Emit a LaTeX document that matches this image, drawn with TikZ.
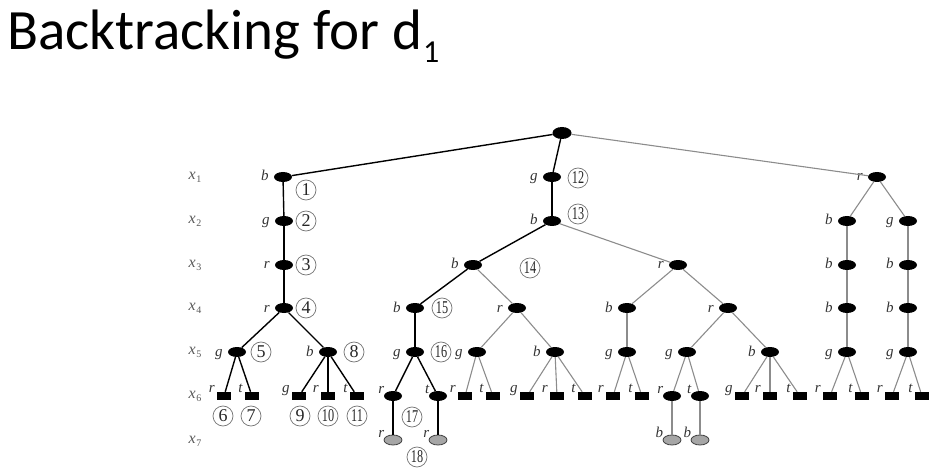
\documentclass[tikz,border=0pt]{standalone}
\usepackage{fontspec}
\setmainfont{Liberation Serif}
\newfontfamily\titlefont{Carlito}
\usetikzlibrary{shapes.geometric}
\newcommand\xv[1]{\textit{x}\kern0.5pt\raisebox{-3pt}{\fontsize{10}{10}\selectfont #1}}
\newcommand\tn[1]{\scalebox{0.68}[1]{#1}}
\begin{document}
\begin{tikzpicture}[x=1pt,y=-1pt,
  nd/.style={ellipse,fill=black,minimum width=18pt,minimum height=10pt,inner sep=0pt},
  lf/.style={rectangle,fill=black,minimum width=14pt,minimum height=8pt,inner sep=0pt},
  gn/.style={ellipse,fill=black!35,draw=black!75,line width=0.8pt,minimum width=18pt,minimum height=10pt,inner sep=0pt},
  lab/.style={font=\fontsize{15}{15}\selectfont\itshape,text=black!80,inner sep=0pt},
  il/.style={label={[lab,anchor=base east,yshift=-4pt,label distance=5pt]left:#1}},
  ll/.style={label={[lab,anchor=base east,xshift=-2pt,yshift=-1pt]north west:#1}},
  cn/.style={circle,draw=black!55,line width=0.7pt,minimum size=20pt,inner sep=0pt,text=black!85,font=\fontsize{18}{18}\selectfont},
  xl/.style={font=\fontsize{16}{16}\selectfont,text=black!65,inner sep=0pt},
  dk/.style={draw=black,line width=1.4pt},
  lt/.style={draw=black!45,line width=1.1pt}]
\useasboundingbox (0,0) rectangle (946,476);
\node[anchor=base west,inner sep=0pt,font=\titlefont\fontsize{57}{57}\selectfont] (title) at (7,50)
  {Backtracking for d\hspace{1pt}\raisebox{-13pt}{\fontsize{32}{32}\selectfont 1}};
% level labels
\node[xl] (x1) at (195,177) {\xv{1}};
\node[xl] (x2) at (195,221) {\xv{2}};
\node[xl] (x3) at (195,265) {\xv{3}};
\node[xl] (x4) at (195,308) {\xv{4}};
\node[xl] (x5) at (195,352) {\xv{5}};
\node[xl] (x6) at (195,396) {\xv{6}};
\node[xl] (x7) at (195,441) {\xv{7}};
% root
\node[nd,minimum width=19pt,minimum height=12pt] (root) at (562,133) {};
% left subtree
\node[nd,il=b] (n1) at (283,177) {};
\node[nd,il=g] (n2) at (284,221) {};
\node[nd,il=r] (n3) at (284,265) {};
\node[nd,il=r] (n4) at (284,308) {};
\node[nd,il=g] (n5) at (237,352) {};
\node[nd,il=b] (n8) at (328,352) {};
\node[lf,ll=r] (l6) at (224,396) {};
\node[lf,ll=t] (l7) at (252,396) {};
\node[lf,ll=g] (l9) at (299,396) {};
\node[lf,ll=r] (l10) at (328,396) {};
\node[lf,ll=t] (l11) at (357,396) {};
% middle subtree
\node[nd,il=g] (n12) at (552,177) {};
\node[nd,il=b] (n13) at (552,221) {};
\node[nd,il=b] (n14) at (473,265) {};
\node[nd,il=b] (n15) at (415,308) {};
\node[nd,il=g] (n16) at (415,352) {};
\node[nd,ll=r] (e17a) at (393,396) {};
\node[nd,ll=t] (e17b) at (438,396) {};
\node[gn,ll=r] (g18a) at (393,440) {};
\node[gn,ll=r] (g18b) at (438,440) {};
\node[nd,il=r] (mr4) at (517,308) {};
\node[nd,il=g] (mg5) at (477,352) {};
\node[lf,ll=r] (ma1) at (465,396) {};
\node[lf,ll=t] (ma2) at (493,396) {};
\node[nd,il=b] (mb5) at (555,352) {};
\node[lf,ll=g] (mb1) at (527,396) {};
\node[lf,ll=r] (mb2) at (557,396) {};
\node[lf,ll=t] (mb3) at (585,396) {};
\node[nd,il=r] (mr3) at (678,265) {};
\node[nd,il=b] (pb4) at (627,308) {};
\node[nd,il=g] (pg5) at (627,352) {};
\node[lf,ll=r] (pa1) at (613,396) {};
\node[lf,ll=t] (pa2) at (642,396) {};
\node[nd,il=r] (pr4) at (728,308) {};
\node[nd,il=g] (pg5b) at (687,352) {};
\node[nd,ll=r] (pe1) at (672,396) {};
\node[nd,ll=t] (pe2) at (700,396) {};
\node[gn,ll=b] (pq1) at (672,440) {};
\node[gn,ll=b] (pq2) at (700,440) {};
\node[nd,il=b] (pb5) at (770,352) {};
\node[lf,ll=g] (pc1) at (742,396) {};
\node[lf,ll=r] (pc2) at (770,396) {};
\node[lf,ll=t] (pc3) at (800,396) {};
% right subtree
\node[nd,il=r] (rr) at (877,177) {};
\node[nd,il=b] (rb2) at (847,221) {};
\node[nd,il=g] (rg2) at (908,221) {};
\node[nd,il=b] (rb3) at (847,265) {};
\node[nd,il=b] (rb3b) at (908,265) {};
\node[nd,il=b] (rb4) at (847,308) {};
\node[nd,il=b] (rb4b) at (908,308) {};
\node[nd,il=g] (rg5) at (847,352) {};
\node[nd,il=g] (rg5b) at (908,352) {};
\node[lf,ll=r] (ra1) at (830,396) {};
\node[lf,ll=t] (ra2) at (862,396) {};
\node[lf,ll=r] (ra3) at (892,396) {};
\node[lf,ll=t] (ra4) at (922,396) {};
% dark edges (explored)
\draw[dk] (root) -- (n1);
\draw[dk] (root) -- (n12);
\draw[dk] (n1) -- (n2);
\draw[dk] (n2) -- (n3);
\draw[dk] (n3) -- (n4);
\draw[dk] (n4) -- (n5);
\draw[dk] (n4) -- (n8);
\draw[dk] (n5) -- (l6);
\draw[dk] (n5) -- (l7);
\draw[dk] (n8) -- (l9);
\draw[dk] (n8) -- (l10);
\draw[dk] (n8) -- (l11);
\draw[dk] (n12) -- (n13);
\draw[dk] (n13) -- (n14);
\draw[dk] (n14) -- (n15);
\draw[dk] (n15) -- (n16);
\draw[dk] (n16) -- (e17a);
\draw[dk] (n16) -- (e17b);
\draw[dk] (e17a) -- (g18a);
\draw[dk] (e17b) -- (g18b);
% gray edges
\draw[lt] (root) -- (rr);
\draw[lt] (n13) -- (mr3);
\draw[lt] (n14) -- (mr4);
\draw[lt] (mr4) -- (mg5);
\draw[lt] (mr4) -- (mb5);
\draw[lt] (mg5) -- (ma1);
\draw[lt] (mg5) -- (ma2);
\draw[lt] (mb5) -- (mb1);
\draw[lt] (mb5) -- (mb2);
\draw[lt] (mb5) -- (mb3);
\draw[lt] (mr3) -- (pb4);
\draw[lt] (mr3) -- (pr4);
\draw[lt] (pb4) -- (pg5);
\draw[lt] (pg5) -- (pa1);
\draw[lt] (pg5) -- (pa2);
\draw[lt] (pr4) -- (pg5b);
\draw[lt] (pr4) -- (pb5);
\draw[lt] (pg5b) -- (pe1);
\draw[lt] (pg5b) -- (pe2);
\draw[lt] (pe1) -- (pq1);
\draw[lt] (pe2) -- (pq2);
\draw[lt] (pb5) -- (pc1);
\draw[lt] (pb5) -- (pc2);
\draw[lt] (pb5) -- (pc3);
\draw[lt] (rr) -- (rb2);
\draw[lt] (rr) -- (rg2);
\draw[lt] (rb2) -- (rb3);
\draw[lt] (rb3) -- (rb4);
\draw[lt] (rb4) -- (rg5);
\draw[lt] (rg2) -- (rb3b);
\draw[lt] (rb3b) -- (rb4b);
\draw[lt] (rb4b) -- (rg5b);
\draw[lt] (rg5) -- (ra1);
\draw[lt] (rg5) -- (ra2);
\draw[lt] (rg5b) -- (ra3);
\draw[lt] (rg5b) -- (ra4);
% circled step numbers
\node[cn] (c1) at (306,190) {1};
\node[cn] (c2) at (306,221) {2};
\node[cn] (c3) at (306,265) {3};
\node[cn] (c4) at (306,308) {4};
\node[cn] (c5) at (261,352) {5};
\node[cn] (c8) at (354,352) {8};
\node[cn] (c6) at (223,416) {6};
\node[cn] (c7) at (251,416) {7};
\node[cn] (c9) at (300,416) {9};
\node[cn] (c10) at (328,416) {\tn{10}};
\node[cn] (c11) at (357,416) {\tn{11}};
\node[cn] (c12) at (578,178) {\tn{12}};
\node[cn] (c13) at (578,214) {\tn{13}};
\node[cn] (c14) at (530,268) {\tn{14}};
\node[cn] (c15) at (442,308) {\tn{15}};
\node[cn] (c16) at (441,352) {\tn{16}};
\node[cn] (c17) at (412,417) {\tn{17}};
\node[cn] (c18) at (417,457) {\tn{18}};
\end{tikzpicture}
\end{document}
